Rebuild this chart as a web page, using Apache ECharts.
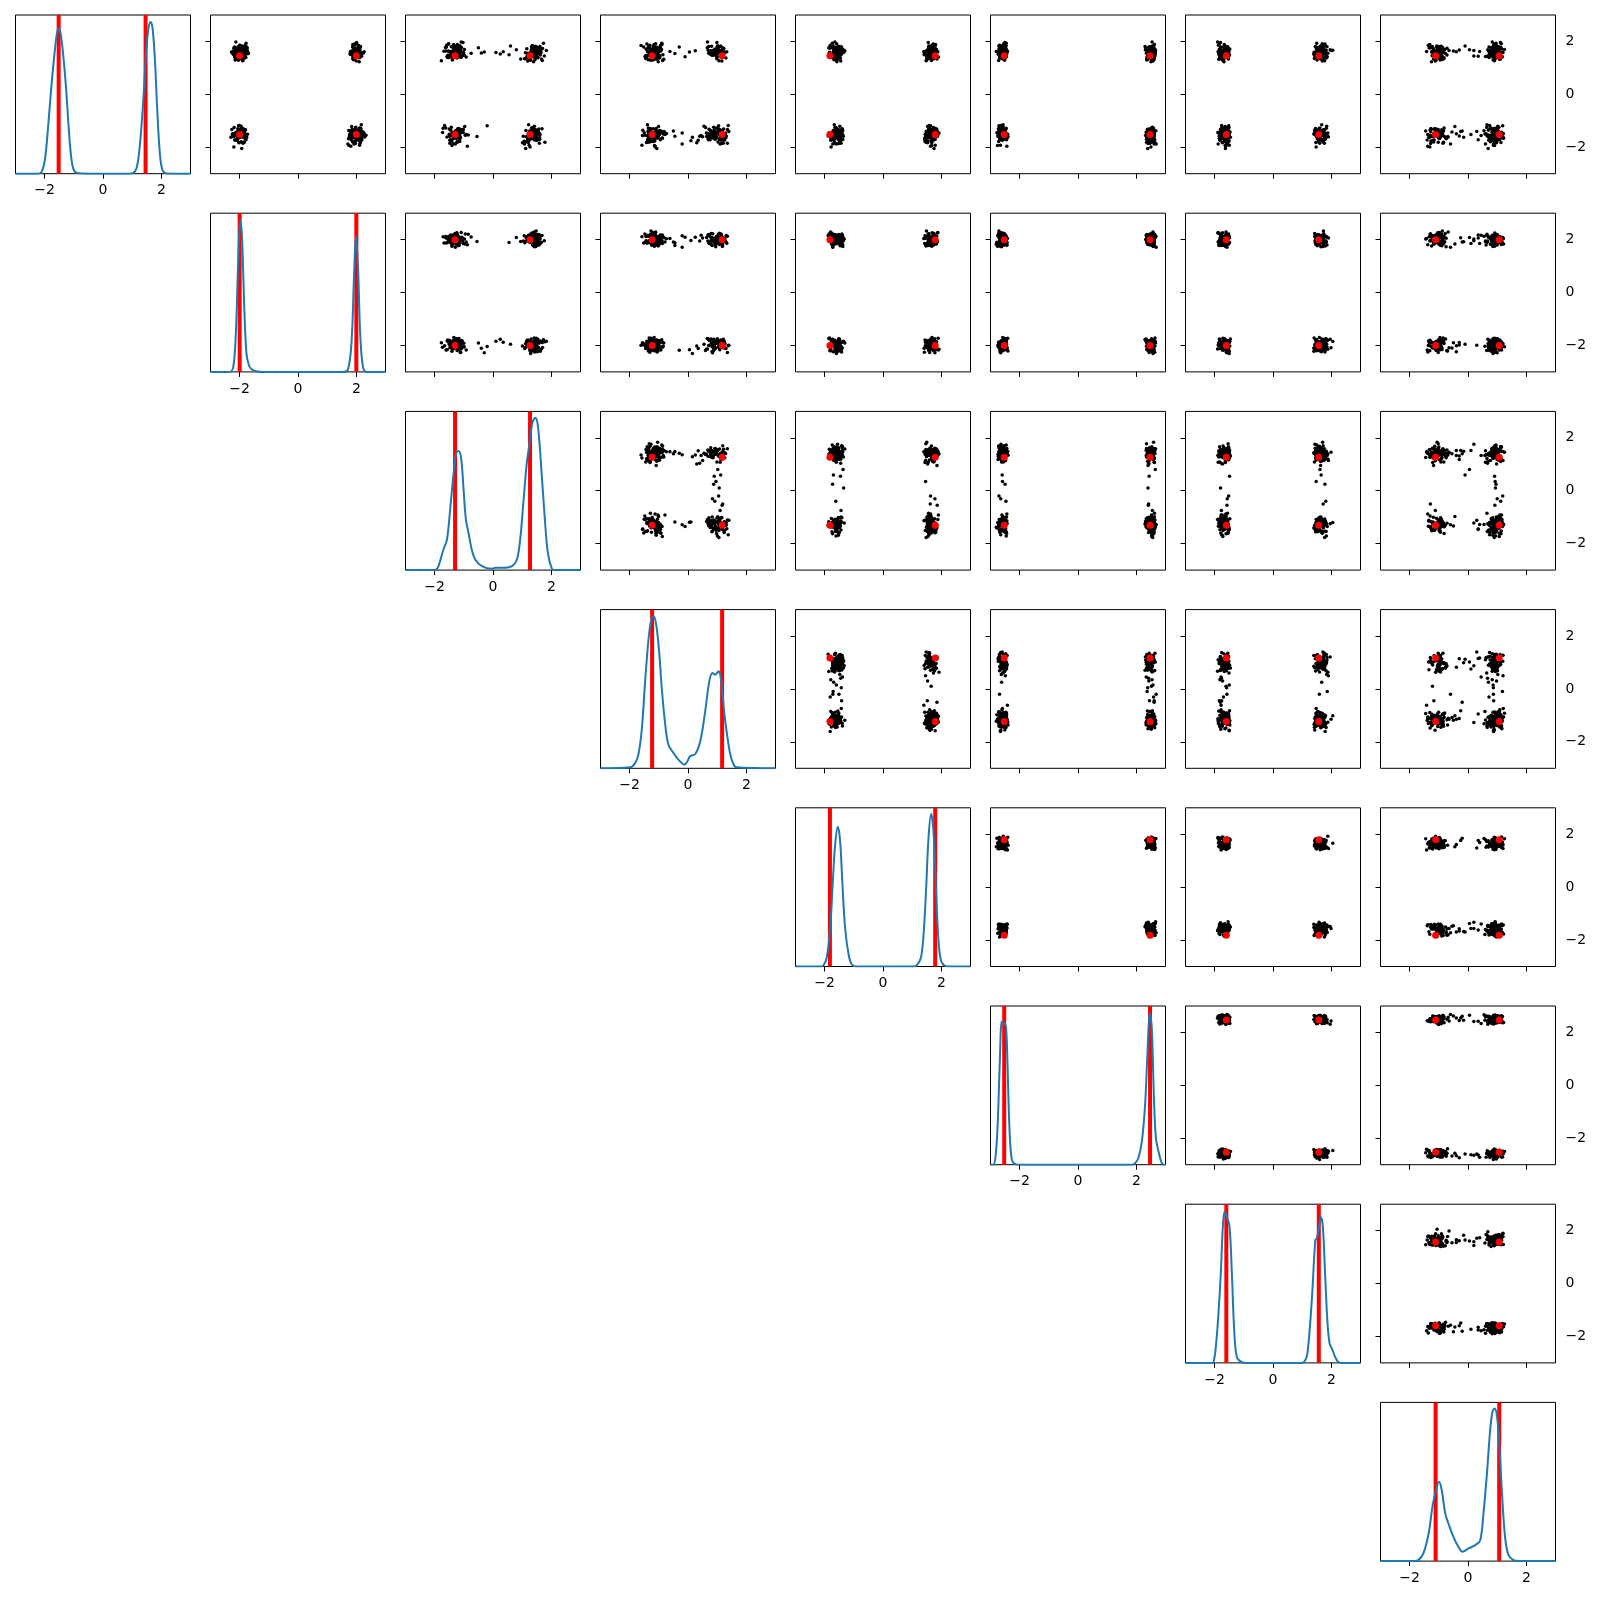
<!DOCTYPE html>
<html>
<head>
<meta charset="utf-8">
<title>pair plot</title>
<script src="https://cdn.jsdelivr.net/npm/echarts@6/dist/echarts.min.js"></script>
<style>
html, body { margin: 0; background: #fff; }
#chart { width: 1600px; height: 1600px; }
</style>
</head>
<body>
<div id="chart"></div>
<script>
// samples, one array per variable (same sample index in each)
var dim0 = [1.63,-1.41,-1.58,1.72,-1.49,1.55,1.48,-1.66,1.61,-1.37,
  -1.53,-1.70,1.59,1.84,-1.45,1.66,-1.62,1.52,1.69,-1.29,
  1.57,1.41,-1.51,-1.88,1.65,-1.55,-1.43,1.76,-1.60,1.50,
  -1.47,1.62,1.70,-1.58,-1.35,1.58,1.44,-1.52,-1.74,1.67,
  1.53,-1.62,1.81,-1.44,-1.56,-1.50,1.60,1.38,-1.68,1.64,
  -1.40,1.71,-1.57,1.49,1.62,-1.93,1.56,-1.46,-1.54,1.77,
  1.66,1.58,1.47,-1.61,-1.49,1.63,-1.38,-1.72,1.54,-1.55,
  -1.64,-1.43,1.68,-1.51,1.60,1.45,-1.59,1.73,1.57,-1.48,
  1.42,-1.57,-1.66,-1.33,1.69,1.61,-1.50,1.55,-1.45,1.79,
  -1.59,1.64,-1.44,1.51,-1.63,1.67,1.59,-1.56,1.62,-1.78,
  1.74,1.56,-1.48,1.60,-1.53,-1.39,1.50,-1.65,-1.47,1.58,
  -1.55,-1.61,1.65,1.43,1.70,-1.52,-1.46,1.61,1.66,-1.42,
  -1.32,1.81,1.37,-1.74,1.60,-1.21,-1.55,1.93,-1.88,1.44,
  1.29,-1.63,-1.40,1.71,1.52,-1.96,1.85,-1.27,1.40,-1.58,
  -1.69,1.55,-1.18,1.34,-1.48,1.98,-1.81,1.62,1.23,-1.36,
  1.75,-1.44,1.47,-1.62,1.88,-1.30,1.56,-2.05,-1.51,1.31,
  -1.78,-1.25,1.66,1.42,-1.57,1.79,-1.39,1.50,1.69,-1.85,
  1.36,1.91,-1.66,-1.29,1.27,-1.50,1.64,-1.72,1.83,-1.43,
  -1.24,1.48,-1.92,1.73,-1.37,-1.60,1.39,1.86,-1.46,1.58,
  1.67,-1.71,1.30,-1.52,-1.15,1.59,-1.83,1.45,-1.34,1.77,
  -1.61,1.38,1.82,-1.99,1.53,-1.28,1.70,-1.45,1.26,-1.67,
  1.49,-1.36,-1.77,1.61,-1.42,1.33,-1.59,1.90,-1.19,1.54,
  -1.54,1.72,1.44,-1.31,1.96,-1.73,1.35,-1.64,1.63,-1.40,
  1.57,-1.86,1.28,1.68,-1.48,-1.22,1.80,-1.56,-1.70,1.41,
  1.51,-1.63,1.77,-1.39,-1.71,1.46,1.65,-1.30,-1.57,1.70,
  -1.45,1.39,-1.82,1.58,1.88,-1.54,-1.36,1.62,-1.68,1.47,
  1.73,-1.48,1.35,1.64,-1.27,-1.59,1.53,-1.76,1.43,-1.52,
  -1.66,-1.34,1.60,1.82,1.48,-1.79,-1.47,1.37,1.69,-1.58,
  1.56,1.74,-1.41,-1.62,1.32,1.67,-1.85,-1.50,1.59,1.44,
  -1.53,1.63,1.41,-1.70,-1.44,1.78,1.50,-1.61,-1.33,1.66,
  1.40,-1.56,-1.73,1.54,1.71,-1.42,1.61,1.86,-1.64,-1.49,
  -1.38,1.69,-1.55,-1.80,1.45,1.57,-1.67,1.34,1.76,-1.46,
  1.62,-1.74,1.52,1.39,-1.51,-1.35,1.80,-1.60,-1.43,1.55,
  -1.69,1.48,-1.37,1.71,1.59,-1.65,1.43,-1.81,1.64,-1.40,
  1.83,-1.50,1.58,-1.57,-1.62,1.52,-1.47,1.68,1.38,-1.72,
  -1.44,1.60,-1.64,-1.31,1.75,1.49,-1.58,1.56,-1.75,1.65];
var dim1 = [-2.15,2.21,1.78,-1.80,-2.24,2.10,-1.86,1.84,2.27,1.74,
  2.19,-2.08,-1.72,-1.83,1.90,2.02,-2.30,1.79,-1.77,2.14,
  -1.82,-2.17,2.06,1.71,-1.93,2.33,2.12,-1.74,-2.21,1.89,
  2.24,1.83,-2.05,1.96,-1.80,-2.26,2.18,1.77,-2.12,-1.85,
  -2.01,1.92,-1.78,2.25,1.86,-2.10,-2.28,2.09,1.73,-1.91,
  1.81,-2.02,2.16,-2.19,2.04,1.75,-1.76,-2.14,2.20,-1.88,
  -2.09,-1.84,1.94,2.29,1.80,-2.22,2.13,-1.79,-1.70,2.01,
  2.07,2.22,-1.89,-1.73,-2.16,1.88,1.76,-2.04,2.19,1.97,
  -1.87,2.15,1.85,-2.27,2.08,-1.95,-1.81,2.23,-2.07,-2.18,
  1.93,-1.90,-2.13,1.82,2.11,-1.75,2.05,2.17,-1.98,1.87,
  -2.20,1.79,-1.84,-2.06,2.12,1.91,-2.11,-1.82,2.26,-1.94,
  1.78,-2.03,2.09,1.95,-1.76,-2.25,2.21,-1.88,-2.09,1.84,
  1.86,2.14,-1.83,-2.09,1.99,-1.95,2.21,-1.78,1.92,-2.16,
  -2.04,1.90,2.07,-1.87,-2.22,1.81,-1.99,2.12,-1.91,1.95,
  2.18,-1.80,-2.01,1.93,2.03,-2.13,-1.86,1.85,2.10,-1.97,
  -1.89,-2.07,1.96,-1.76,1.88,2.16,-2.11,-1.93,2.05,1.91,
  1.94,-2.19,-1.84,2.09,-1.98,1.87,2.02,-2.05,-1.82,2.13,
  -2.12,2.00,1.83,1.97,-1.90,-2.03,1.89,2.19,-1.95,-1.85,
  1.98,-1.92,2.11,-2.08,1.84,2.06,-1.79,-2.00,1.93,-2.14,
  -1.96,1.82,-2.15,1.91,2.17,-1.88,-2.02,1.96,-1.81,2.08,
  2.04,1.89,-1.97,-2.20,-1.85,2.11,1.92,-1.94,2.00,-2.06,
  -1.83,-2.01,2.15,1.86,-2.10,-1.91,2.08,1.94,-2.04,1.88,
  2.10,-1.94,1.90,-1.86,2.01,-2.17,-1.93,2.05,1.87,-1.99,
  -2.08,1.97,-1.89,2.12,1.95,1.84,-2.06,-1.90,2.02,-1.87,
  -2.11,-1.86,2.09,1.92,-1.79,2.15,1.87,-2.06,-1.94,2.02,
  1.89,2.12,-2.03,-1.84,1.95,-2.14,2.06,1.80,2.17,-1.90,
  -1.98,2.04,1.88,-2.17,-1.92,1.99,-1.77,2.13,-2.02,1.85,
  2.16,-1.88,-2.09,1.90,2.08,-1.95,1.83,-2.12,1.97,-1.81,
  -1.85,1.93,2.13,-2.00,-2.15,2.01,-1.89,1.87,-2.08,2.10,
  2.03,-2.10,-1.83,2.14,1.86,-1.97,2.11,-1.92,-2.05,1.91,
  -2.07,1.84,2.00,-1.93,2.12,-1.86,-2.01,2.07,1.94,-2.19,
  1.96,-1.95,-2.13,1.88,-1.82,2.05,-2.09,1.90,-1.91,2.15,
  -1.90,2.09,-1.88,2.02,-2.04,-1.81,2.14,1.93,1.82,-2.00,
  2.07,-2.02,1.94,-1.87,1.91,2.18,-2.16,-1.84,2.04,1.89,
  -1.94,1.98,-2.06,2.10,-1.99,1.85,1.96,-2.10,-1.86,2.06,
  1.92,-2.08,2.05,-1.96,2.00,-1.89,-1.93,2.11,1.97,-2.03];
var dim2 = [1.45,1.30,-1.18,-1.35,1.52,-0.75,1.38,-1.27,-1.09,1.47,
  -1.31,1.56,1.41,-1.14,-1.40,-1.22,1.29,1.50,-1.25,1.36,
  1.43,-0.92,1.60,-1.29,1.39,1.48,-1.33,-1.17,1.34,0.55,
  -1.24,-1.38,1.46,1.28,1.55,-1.12,-1.45,1.40,1.51,-1.20,
  1.37,1.49,-1.26,1.33,-1.19,1.44,-0.30,-1.36,1.42,1.58,
  -1.16,1.35,-1.30,-1.23,1.47,-1.41,1.53,1.39,-0.85,1.44,
  1.50,0.10,-1.21,1.41,1.36,1.62,-1.28,1.45,-1.34,-1.15,
  -1.27,1.43,1.31,1.48,-1.19,-1.37,1.40,-1.24,1.57,-1.32,
  1.39,-1.20,1.46,-1.11,0.80,1.35,1.52,-1.30,-1.25,1.42,
  -0.55,-1.33,-1.18,1.44,1.37,-1.26,1.49,1.33,1.41,-1.22,
  1.54,1.38,1.45,-1.29,-1.36,1.40,-1.13,1.47,-1.24,-1.31,
  -1.17,-1.28,1.35,1.51,-1.21,1.43,1.38,0.35,1.46,1.39,
  -1.02,1.61,1.15,-1.48,-1.30,1.42,-0.95,1.73,1.08,-1.57,
  1.29,-1.19,1.52,1.66,-1.41,-0.88,1.35,-1.62,-1.11,1.04,
  -1.37,1.20,-1.66,0.95,1.47,-1.09,1.78,-1.28,1.39,-1.45,
  1.55,-1.73,-1.05,1.31,-1.22,1.68,-0.40,1.12,-1.50,1.44,
  -1.14,1.37,1.83,-1.35,1.18,-1.60,1.26,-0.99,-1.31,1.59,
  1.09,-1.52,1.46,-1.17,-1.77,1.33,-1.24,1.50,0.60,-1.06,
  -1.43,-1.00,1.24,1.70,-1.26,1.14,-1.55,-1.34,1.41,1.65,
  1.36,1.58,-1.39,-0.92,1.22,-1.47,1.01,1.76,-1.20,-1.63,
  -1.58,1.45,-1.13,1.27,-1.38,-1.71,1.53,-1.08,1.19,1.34,
  1.62,-1.25,1.07,-1.44,1.40,1.28,-1.16,-1.53,-0.20,1.48,
  -1.29,1.16,-1.54,1.57,-1.03,1.43,-1.40,1.25,-1.68,-1.12,
  1.11,-1.36,1.69,-1.21,1.54,-0.97,1.32,-1.46,1.60,-1.33,
  -1.33,1.27,-1.08,1.55,1.19,-1.46,1.63,-1.21,1.34,-0.98,
  1.48,-1.52,1.21,-1.17,-1.35,1.40,-1.04,1.57,1.30,-1.27,
  -1.19,1.44,1.09,-1.61,1.32,-1.28,0.25,-1.42,-1.10,1.52,
  1.23,-1.06,-1.39,1.46,-1.55,1.14,1.59,-1.23,1.37,-1.49,
  -1.40,1.34,1.50,-1.12,1.26,-1.31,-1.48,1.43,-1.20,1.17,
  1.61,-1.25,-1.57,1.20,-1.02,1.51,1.29,-1.37,1.45,-1.14,
  -1.09,1.39,1.25,-1.44,1.56,-1.18,1.33,-1.59,-1.26,1.42,
  1.31,-1.34,1.47,-1.22,-1.47,1.28,-1.13,1.66,-0.50,1.36,
  -1.51,1.18,-1.30,1.53,1.35,-1.07,-1.43,1.24,1.49,-1.32,
  1.41,-1.45,1.13,-1.36,-1.16,1.58,1.38,-1.24,-1.53,1.27,
  -1.23,1.50,-1.01,1.30,1.44,-1.39,1.22,-1.11,1.54,-1.46,
  1.35,-1.15,1.60,-1.50,-1.29,1.19,-1.35,1.46,-1.18,1.32];
var dim3 = [-1.12,1.05,-0.45,-1.28,0.82,1.10,0.97,-1.06,-1.21,1.18,
  0.74,-1.17,-1.33,1.02,-0.98,0.88,0.15,-1.24,1.21,-1.09,
  -1.19,-1.03,0.93,-0.20,1.12,-1.27,-1.14,0.66,-1.36,0.90,
  1.08,-1.22,-0.92,0.79,-1.10,-1.31,1.15,-1.16,0.35,-1.01,
  -1.25,0.99,0.71,-1.13,-1.40,1.26,0.84,-1.07,0.95,-1.18,
  -1.08,-1.20,1.31,0.87,-0.62,-1.15,1.01,0.63,-1.29,-0.95,
  0.91,1.07,-1.23,-1.11,1.19,-1.04,-1.32,0.76,-1.16,1.09,
  -1.21,0.85,-1.12,-1.26,0.05,1.14,-1.02,1.23,-1.19,-1.30,
  0.98,-1.14,-0.88,1.35,1.02,-1.23,-1.10,0.80,1.04,-0.30,
  1.17,-1.18,0.93,-1.05,-1.27,0.69,-1.13,0.45,1.11,-1.24,
  -1.16,0.94,-1.30,1.06,-1.09,-0.50,0.89,-1.20,-1.11,1.27,
  0.83,-1.24,0.25,-1.17,1.00,-1.06,1.13,0.96,-1.15,0.78,
  0.72,-1.35,-0.98,1.21,-1.22,0.55,-1.48,-0.90,1.10,-1.05,
  -1.28,1.30,-0.82,-1.40,0.86,-1.13,-1.61,0.98,-1.19,0.40,
  -0.95,-1.26,1.38,-1.09,-0.74,0.67,-1.33,1.17,-1.02,-1.55,
  1.03,-0.88,-1.44,0.79,-1.16,-1.30,0.92,-1.07,1.26,-1.37,
  -1.20,0.60,-1.04,-0.10,1.14,-1.52,-0.93,0.83,-1.24,1.35,
  -1.45,-1.11,0.95,-1.29,1.06,-0.85,-1.18,0.70,1.12,-1.36,
  0.88,-1.23,-1.58,1.19,-0.97,0.50,-1.06,-1.31,1.29,-1.14,
  -1.00,1.08,-1.21,-0.79,-1.39,0.96,0.30,-1.27,0.74,-1.10,
  1.24,-1.42,0.81,-1.12,-1.25,1.01,-0.91,-1.50,1.16,-1.34,
  -1.17,0.90,-1.30,1.33,-1.08,-0.83,0.64,-1.41,1.05,-0.45,
  0.77,-1.03,-1.46,1.22,0.99,-1.19,-1.27,0.85,-1.09,1.40,
  -1.32,1.15,-0.87,-1.23,0.68,-1.01,1.09,-1.56,0.93,-1.15,
  -1.24,0.86,-1.05,-1.37,1.13,-0.96,0.78,-1.19,-1.30,1.02,
  0.92,-1.11,-1.42,1.24,-0.89,-1.26,1.07,-1.03,0.69,-1.34,
  -1.08,-1.21,0.99,-0.93,-1.36,1.18,0.88,-1.14,-1.47,0.75,
  -1.28,1.10,-1.00,-1.19,0.82,-1.40,-1.09,1.30,-1.23,0.96,
  1.05,-1.33,-0.91,0.73,-1.17,-1.04,1.21,-1.29,0.94,-1.12,
  -0.98,0.91,-1.25,-1.38,1.16,-1.07,-0.86,0.80,-1.31,1.08,
  -1.20,-1.02,1.26,0.87,-1.44,0.98,-1.15,-0.94,1.12,-1.27,
  0.79,-1.18,-1.35,1.03,-0.99,-1.22,0.90,-1.06,1.19,-0.20,
  -1.39,1.14,-1.10,-0.97,0.85,-1.32,1.00,-1.16,-1.24,0.71,
  1.22,-1.05,-1.29,0.93,-1.13,-0.88,1.09,-1.41,0.83,-1.01,
  -1.17,0.97,1.15,-1.26,-1.08,0.76,-1.33,0.89,-1.21,-0.95,
  0.88,-1.30,-1.12,1.06,-0.94,-1.37,0.95,-1.03,0.10,1.17];
var dim4 = [1.80,-1.41,1.52,1.76,-1.70,-1.44,1.61,-1.77,1.88,-1.38,
  -1.65,1.47,-1.83,1.70,1.85,-1.33,-1.60,1.55,-1.49,1.79,
  1.62,1.90,-1.39,-1.72,-1.54,1.49,1.74,-1.86,1.58,-1.46,
  -1.75,1.53,1.83,-1.36,1.69,1.42,-1.62,-1.47,-1.79,1.66,
  1.45,-1.68,-1.51,1.87,1.57,-1.40,1.78,1.50,-1.73,-1.31,
  -1.44,1.81,-1.88,-1.57,1.40,1.67,-1.52,1.92,1.56,-1.69,
  -1.61,-1.35,1.73,-1.80,1.51,-1.59,1.84,1.44,1.68,-1.45,
  1.71,1.58,-1.66,1.89,-1.43,-1.76,1.47,-1.55,-1.84,1.63,
  -1.50,-1.74,1.43,1.60,-1.37,1.82,-1.64,1.75,1.52,-1.81,
  1.86,-1.46,1.65,-1.71,1.48,1.77,-1.58,-1.39,-1.67,1.54,
  -1.82,1.72,1.50,-1.48,-1.63,1.85,1.41,-1.78,1.69,1.59,
  1.57,-1.53,-1.69,1.79,1.64,-1.42,-1.85,1.46,-1.56,1.83,
  -1.41,1.78,-1.69,1.52,1.70,-1.48,1.55,-1.74,-1.60,1.81,
  1.49,-1.66,1.76,-1.39,-1.53,1.63,-1.81,1.57,1.72,-1.45,
  -1.72,-1.50,1.58,1.85,-1.43,-1.65,1.47,1.69,-1.58,1.62,
  1.67,1.54,-1.77,-1.51,1.80,-1.40,-1.62,1.75,1.45,-1.68,
  -1.46,1.73,1.50,-1.71,-1.57,1.66,1.83,-1.44,1.59,-1.63,
  1.56,-1.59,-1.47,1.71,1.48,-1.79,1.64,-1.52,-1.70,1.77,
  -1.64,1.51,1.79,-1.42,1.61,1.46,-1.75,1.68,-1.49,-1.58,
  1.74,-1.38,-1.61,1.60,-1.67,1.82,1.53,-1.56,1.70,-1.73,
  -1.50,1.65,-1.54,-1.78,1.49,-1.61,1.76,1.58,-1.45,1.69,
  1.62,-1.70,1.44,1.57,-1.48,-1.55,-1.66,1.72,1.63,-1.42,
  -1.76,1.59,-1.63,1.84,1.55,-1.46,1.67,-1.69,-1.53,1.48,
  1.71,-1.52,1.66,-1.60,-1.74,1.53,-1.43,1.61,1.79,-1.65,
  1.70,-1.47,-1.62,1.55,-1.68,1.76,-1.51,1.60,-1.58,1.66,
  -1.63,1.58,1.67,-1.54,1.72,-1.45,1.61,-1.70,-1.49,1.54,
  1.59,-1.66,1.74,-1.52,-1.60,1.63,-1.73,1.68,1.50,-1.56,
  -1.48,1.69,-1.57,1.62,1.53,-1.67,1.77,-1.46,-1.61,1.71,
  1.64,1.56,-1.52,-1.69,1.68,-1.59,-1.44,1.73,1.60,-1.65,
  -1.71,-1.55,1.62,1.75,-1.50,1.57,1.66,-1.62,-1.53,1.69,
  1.52,-1.64,-1.47,1.65,-1.57,-1.72,1.61,1.78,-1.60,1.58,
  -1.59,1.73,1.57,-1.48,1.64,1.70,-1.55,-1.67,1.62,-1.51,
  1.67,-1.50,-1.65,1.59,-1.63,1.55,1.72,-1.58,-1.70,1.63,
  -1.54,1.61,1.70,-1.61,-1.46,-1.64,1.56,1.67,1.74,-1.57,
  1.57,-1.68,-1.53,1.71,1.59,-1.49,-1.66,1.64,-1.56,1.76,
  -1.65,1.66,1.60,-1.58,-1.72,1.68,1.54,-1.51,1.65,-1.62];
var dim5 = [-2.45,-2.73,2.61,2.33,-2.66,2.55,-2.49,2.38,-2.70,2.58,
  2.36,-2.61,2.64,-2.47,-2.78,2.41,2.57,-2.54,2.31,-2.69,
  -2.63,2.52,-2.44,2.68,2.39,-2.71,2.60,-2.52,-2.40,2.44,
  2.56,-2.80,-2.50,2.35,-2.57,2.63,2.42,-2.68,2.54,-2.46,
  -2.74,2.46,2.30,-2.59,2.59,-2.43,-2.65,2.37,-2.62,2.66,
  2.43,2.58,-2.69,2.50,-2.42,-2.76,2.34,-2.56,2.62,-2.48,
  -2.51,2.40,-2.64,2.57,-2.72,2.48,2.67,-2.45,-2.58,2.32,
  2.60,-2.67,2.45,-2.41,2.39,-2.55,-2.70,2.56,2.50,-2.62,
  -2.48,-2.75,2.53,2.44,2.65,-2.60,2.36,-2.53,-2.66,2.59,
  2.41,2.62,-2.55,-2.69,-2.47,2.52,-2.63,2.34,2.57,-2.72,
  -2.57,-2.44,2.49,-2.71,2.40,2.61,-2.50,2.55,-2.64,2.38,
  2.54,2.35,-2.62,2.58,-2.46,-2.67,2.47,-2.59,2.43,-2.52,
  2.38,-2.70,-2.49,2.57,2.45,-2.63,2.52,-2.46,2.61,-2.68,
  -2.52,2.36,2.55,-2.71,2.49,-2.44,-2.66,2.58,-2.57,2.42,
  2.60,-2.48,-2.65,2.40,-2.59,2.54,2.35,-2.72,2.50,-2.51,
  -2.67,2.53,2.44,-2.50,2.62,-2.64,-2.47,2.39,-2.69,2.56,
  2.48,-2.58,2.59,2.37,-2.74,2.51,-2.55,-2.45,2.43,2.64,
  -2.62,-2.50,2.41,-2.68,2.56,2.46,-2.43,2.63,-2.60,2.34,
  2.55,2.44,-2.66,-2.53,2.39,-2.49,2.61,-2.70,2.47,-2.56,
  -2.45,2.58,2.36,-2.61,-2.57,2.52,2.43,-2.64,-2.48,2.60,
  2.42,-2.69,-2.54,2.50,2.65,-2.46,-2.62,2.40,2.57,-2.52,
  -2.59,2.47,2.62,-2.48,-2.67,2.38,2.54,-2.55,-2.71,2.45,
  2.51,-2.63,-2.47,2.59,-2.51,2.44,2.37,-2.68,2.53,-2.60,
  -2.54,2.40,-2.72,2.46,2.58,-2.57,2.49,-2.65,2.35,2.55,
  2.53,2.40,-2.66,-2.51,2.58,-2.59,2.45,-2.73,2.49,2.62,
  -2.48,-2.64,2.43,2.56,-2.55,2.37,-2.60,2.51,-2.69,-2.53,
  2.46,2.59,-2.57,-2.45,2.52,-2.67,-2.50,2.41,2.63,-2.62,
  -2.61,2.48,2.55,-2.70,-2.52,2.44,2.60,-2.56,-2.47,2.50,
  2.57,-2.54,-2.68,2.42,2.61,-2.49,2.47,2.54,-2.64,-2.58,
  -2.56,2.52,-2.46,-2.63,2.45,2.58,-2.71,2.39,2.50,-2.51,
  2.44,-2.62,2.57,2.49,-2.54,-2.60,2.55,-2.48,-2.67,2.40,
  -2.65,2.46,-2.53,2.60,2.48,-2.57,-2.44,2.53,2.42,-2.69,
  2.50,-2.59,2.38,-2.55,-2.62,2.56,2.44,-2.66,2.59,-2.50,
  -2.52,2.63,-2.61,2.47,2.41,-2.48,-2.58,2.52,-2.54,2.57,
  2.55,-2.47,2.51,-2.65,2.46,-2.56,2.61,-2.52,2.43,-2.63,
  -2.60,2.49,2.54,2.45,-2.57,2.60,-2.49,-2.62,2.52,2.44];
var dim6 = [1.75,-1.52,-1.84,1.49,1.66,-1.77,1.53,-1.63,-1.88,1.71,
  -1.79,-1.55,1.41,1.80,-1.70,1.58,-1.50,-1.86,1.96,1.46,
  1.69,-1.74,1.57,-1.58,-1.81,1.73,1.44,-1.67,1.78,-1.49,
  -1.85,1.60,-1.53,1.77,1.48,-1.60,-1.76,1.52,-1.82,2.05,
  1.51,1.83,-1.62,-1.89,1.72,1.40,-1.57,-1.73,1.64,-1.54,
  -1.71,-1.48,1.76,1.55,-1.78,-1.64,1.68,1.88,-1.56,1.50,
  1.63,-1.80,1.47,-1.61,1.85,-1.51,-1.75,1.70,1.59,-1.83,
  -1.53,1.74,1.62,-1.72,-1.59,1.45,1.79,-1.80,1.54,-1.68,
  1.81,1.50,-1.76,-1.55,1.61,-1.87,1.74,1.43,-1.62,-1.70,
  -1.58,-1.82,1.70,1.47,-1.69,1.82,-1.54,-1.78,1.65,1.56,
  1.59,-1.69,-1.50,1.73,1.44,-1.80,1.62,-1.65,-1.73,1.77,
  -1.75,1.52,1.67,-1.61,-1.84,1.78,-1.60,1.48,1.99,-1.52,
  -1.80,1.45,1.75,-1.52,-1.70,1.84,-1.61,1.50,-1.88,1.68,
  1.71,1.52,-1.49,-1.83,1.40,-1.62,1.79,-1.55,1.58,-1.77,
  -1.58,1.88,-1.76,1.63,1.48,-1.90,-1.54,1.73,-1.68,1.43,
  1.55,-1.72,1.66,-1.46,-1.85,1.59,1.81,-1.63,1.49,-1.74,
  -1.67,-1.51,1.70,1.86,-1.60,-1.79,1.47,1.64,-1.56,1.76,
  1.42,1.69,-1.84,-1.57,1.77,1.53,-1.69,-1.81,1.65,-1.48,
  -1.75,1.61,-1.50,1.72,-1.64,1.90,1.46,-1.87,-1.59,1.56,
  1.80,-1.66,1.51,-1.78,1.67,-1.53,-1.73,1.44,1.74,-1.61,
  -1.54,-1.82,1.62,1.48,-1.71,1.83,-1.58,-1.65,1.69,1.57,
  1.66,1.74,-1.63,-1.69,1.54,-1.86,1.60,1.78,-1.52,-1.76,
  -1.61,1.49,1.82,-1.55,-1.80,1.65,-1.68,1.58,-1.74,1.71,
  1.63,-1.59,-1.71,1.76,1.46,-1.64,1.85,-1.50,1.53,-1.83,
  1.66,1.51,-1.59,-1.76,1.72,-1.53,-1.69,1.58,1.81,-1.62,
  -1.74,1.60,1.47,-1.55,-1.67,1.74,1.56,-1.80,-1.60,1.68,
  1.55,-1.65,-1.83,1.69,1.61,-1.57,1.78,-1.51,1.64,-1.73,
  -1.60,-1.77,1.58,-1.64,1.52,1.71,-1.56,1.83,-1.68,1.49,
  1.73,-1.58,1.65,1.54,-1.72,-1.63,1.60,-1.70,1.76,-1.52,
  -1.69,1.64,-1.54,1.79,-1.61,1.50,-1.78,1.62,-1.65,1.70,
  1.48,-1.71,1.75,-1.66,1.63,-1.59,1.55,1.69,-1.75,-1.57,
  -1.56,1.67,-1.73,1.57,-1.82,1.61,-1.62,-1.53,1.72,1.59,
  1.61,-1.64,1.52,-1.70,1.68,1.77,-1.55,1.50,-1.67,-1.79,
  -1.81,1.56,1.70,-1.52,-1.66,1.59,1.65,-1.74,1.53,-1.58,
  1.69,-1.62,-1.68,1.66,1.57,-1.76,1.80,-1.60,1.60,-1.65,
  -1.57,1.73,-1.63,-1.71,1.64,1.54,-1.66,1.76,-1.61,1.67];
var dim7 = [0.95,-1.28,0.88,-0.92,-0.40,-1.12,0.90,1.22,-0.98,0.85,
  -1.08,0.93,-0.85,-1.35,0.97,0.20,0.86,-0.95,0.68,0.89,
  0.92,1.15,-1.02,-0.60,0.84,-0.88,-1.10,0.94,-0.70,0.91,
  -0.97,0.87,1.25,0.90,-1.30,0.95,0.35,-0.90,0.83,-1.06,
  0.96,-0.15,-1.01,0.92,0.88,-0.94,1.00,-0.82,-0.75,0.93,
  0.89,-0.99,0.97,-0.72,-1.42,0.91,0.86,-1.11,0.65,-0.87,
  -1.03,0.94,-0.91,-0.68,0.62,0.85,0.55,0.92,-0.96,0.88,
  1.18,-1.00,-0.30,0.90,0.87,-0.93,-1.25,0.96,-1.05,0.91,
  -0.89,0.93,0.86,-1.02,0.05,-0.95,0.98,-0.78,0.84,0.72,
  0.92,-0.50,-0.97,0.89,-1.33,1.01,-0.86,0.45,-1.01,0.94,
  -0.72,0.88,0.95,-0.93,-0.99,-0.20,0.90,0.87,-1.04,1.20,
  0.91,-0.94,0.70,0.60,0.86,-1.38,-0.90,0.93,-0.65,-1.00,
  0.85,-1.22,1.10,0.71,-0.88,1.02,-1.30,0.96,0.60,-0.95,
  -1.10,0.93,-0.25,1.15,0.79,-1.38,0.88,-0.82,1.05,0.67,
  0.99,-0.91,0.74,-1.18,1.21,0.83,-1.02,0.40,-1.25,0.90,
  -1.33,1.07,0.80,-0.77,0.95,-1.14,1.12,0.69,-0.99,0.86,
  0.92,0.64,-1.06,1.18,-0.30,0.89,-1.45,0.97,1.03,-0.86,
  -0.93,1.14,0.77,-1.27,0.90,0.58,-1.08,1.00,-0.10,0.82,
  1.06,-1.19,0.87,0.94,-0.84,1.20,0.72,-1.36,0.91,-1.00,
  -1.15,0.81,-0.96,1.09,0.65,-1.24,0.98,0.20,-0.90,1.13,
  0.76,-1.04,1.01,-1.31,0.88,0.95,-0.80,1.16,-1.12,0.73,
  0.97,0.70,-1.21,0.84,-0.55,1.08,-0.94,0.89,1.19,-1.17,
  -0.87,1.04,0.66,-1.09,1.11,-1.40,0.93,-0.75,0.85,0.30,
  1.12,-1.28,0.91,0.78,-1.01,-0.45,1.06,-1.13,0.83,0.99,
  -1.14,0.98,0.81,-0.87,1.09,-1.23,0.90,0.75,-1.02,1.04,
  0.88,-0.95,1.13,0.94,-1.31,0.70,-1.08,1.00,0.84,-0.90,
  -1.19,0.92,-0.83,1.07,0.79,-1.06,0.96,-1.27,1.15,0.10,
  0.86,1.01,-1.11,-0.92,0.93,0.77,-1.17,1.10,-0.85,0.97,
  -1.00,0.83,0.95,-1.34,-0.89,1.05,0.89,-1.13,0.74,-0.98,
  1.12,-1.21,0.87,0.99,-0.94,-1.07,1.03,0.82,-1.26,0.91,
  -0.91,0.78,-1.16,0.96,1.08,-0.86,-0.40,0.93,0.85,-1.09,
  0.94,-1.03,1.06,-1.18,0.80,0.90,-0.97,1.11,-1.29,0.87,
  -1.24,1.02,0.73,-0.88,-1.05,0.97,0.86,-1.20,1.14,-0.93,
  0.89,-0.99,-1.12,0.92,1.17,-1.01,0.76,-0.84,0.98,1.05,
  -1.07,0.85,0.99,-1.25,0.91,-0.96,1.09,0.81,-1.10,0.35,
  1.00,-0.90,0.84,-1.15,-1.04,1.12,-0.82,0.95,-1.22,0.88];

// true centres (red markers / red lines)
var lowCenter  = [-1.52, -2.00, -1.30, -1.23, -1.82, -2.53, -1.60, -1.11];
var highCenter = [1.46, 2.00, 1.27, 1.17, 1.79, 2.47, 1.57, 1.07];

// density curves, [x, height as fraction of panel]
var kde0 = [[-3,0],[-2.25,0],[-2.11,0.01],[-1.99,0.09],[-1.88,0.3],[-1.77,0.55],[-1.65,0.78],[-1.57,0.895],[-1.51,0.916],[-1.45,0.88],[-1.37,0.76],[-1.27,0.55],[-1.18,0.3],[-1.08,0.09],[-0.97,0.013],[-0.74,0.002],[0.9,0],[1.03,0.004],[1.15,0.034],[1.26,0.17],[1.38,0.46],[1.47,0.74],[1.55,0.905],[1.63,0.956],[1.70,0.916],[1.78,0.72],[1.86,0.40],[1.95,0.128],[2.04,0.023],[2.18,0.002],[3,0]];
var kde1 = [[-3,0],[-2.35,0],[-2.22,0.03],[-2.13,0.25],[-2.05,0.7],[-1.98,0.955],[-1.92,0.85],[-1.85,0.45],[-1.77,0.12],[-1.68,0.04],[-1.58,0.015],[-1.4,0.003],[-1.2,0],[1.55,0],[1.72,0.02],[1.84,0.2],[1.92,0.6],[1.99,0.86],[2.06,0.65],[2.13,0.25],[2.22,0.04],[2.35,0],[3,0]];
var kde2 = [[-3,0],[-1.98,0],[-1.87,0.025],[-1.7,0.13],[-1.58,0.19],[-1.47,0.38],[-1.35,0.61],[-1.26,0.74],[-1.18,0.75],[-1.09,0.70],[-1.01,0.51],[-0.93,0.32],[-0.84,0.235],[-0.73,0.13],[-0.61,0.067],[-0.38,0.025],[-0.04,0.008],[0.07,0.015],[0.42,0.015],[0.65,0.025],[0.82,0.067],[0.93,0.19],[1.05,0.445],[1.16,0.676],[1.27,0.82],[1.35,0.93],[1.45,0.96],[1.54,0.907],[1.65,0.655],[1.77,0.34],[1.88,0.11],[2.02,0.008],[2.13,0],[3,0]];
var kde3 = [[-3,0],[-1.98,0.006],[-1.81,0.034],[-1.7,0.086],[-1.58,0.254],[-1.47,0.548],[-1.35,0.82],[-1.26,0.937],[-1.18,0.958],[-1.09,0.905],[-0.99,0.737],[-0.9,0.506],[-0.78,0.275],[-0.67,0.149],[-0.5,0.097],[-0.33,0.055],[-0.12,0.023],[-0.02,0.044],[0.07,0.076],[0.25,0.09],[0.42,0.17],[0.59,0.36],[0.73,0.548],[0.84,0.6],[0.93,0.59],[1.05,0.611],[1.14,0.548],[1.25,0.338],[1.39,0.149],[1.5,0.055],[1.67,0.006],[3,0]];
var kde4 = [[-3,0],[-2.15,0],[-2.04,0.008],[-1.93,0.055],[-1.81,0.244],[-1.72,0.538],[-1.64,0.769],[-1.55,0.88],[-1.47,0.79],[-1.39,0.517],[-1.3,0.244],[-1.18,0.076],[-1.07,0.013],[-0.9,0],[1.05,0],[1.16,0.008],[1.3,0.055],[1.39,0.2],[1.48,0.496],[1.56,0.81],[1.65,0.962],[1.73,0.853],[1.81,0.517],[1.89,0.2],[1.98,0.044],[2.13,0.004],[2.3,0],[3,0]];
var kde5 = [[-3,0],[-2.9,0],[-2.82,0.063],[-2.75,0.273],[-2.68,0.651],[-2.61,0.903],[-2.54,0.893],[-2.47,0.872],[-2.42,0.651],[-2.35,0.231],[-2.27,0.032],[-2.15,0.004],[-2.0,0],[1.85,0],[1.96,0.01],[2.07,0.042],[2.19,0.147],[2.3,0.378],[2.38,0.693],[2.46,0.956],[2.53,0.861],[2.6,0.441],[2.67,0.168],[2.76,0.084],[2.85,0.021],[2.93,0],[3,0]];
var kde6 = [[-3,0],[-2.15,0],[-2.04,0.006],[-1.95,0.122],[-1.87,0.311],[-1.79,0.563],[-1.72,0.857],[-1.66,0.952],[-1.58,0.92],[-1.49,0.857],[-1.41,0.563],[-1.33,0.206],[-1.24,0.038],[-1.07,0.004],[-0.9,0],[0.95,0],[1.07,0.006],[1.18,0.059],[1.33,0.395],[1.45,0.773],[1.5,0.784],[1.56,0.836],[1.64,0.92],[1.71,0.857],[1.79,0.542],[1.87,0.248],[1.94,0.122],[2.02,0.09],[2.13,0.038],[2.25,0.004],[2.4,0],[3,0]];
var kde7 = [[-3,0],[-1.85,0],[-1.7,0.006],[-1.53,0.048],[-1.35,0.174],[-1.22,0.342],[-1.1,0.447],[-0.99,0.5],[-0.9,0.447],[-0.78,0.3],[-0.67,0.237],[-0.5,0.153],[-0.33,0.09],[-0.19,0.059],[0.02,0.08],[0.25,0.101],[0.42,0.132],[0.53,0.3],[0.65,0.553],[0.76,0.826],[0.84,0.941],[0.91,0.962],[0.99,0.92],[1.07,0.742],[1.16,0.447],[1.27,0.153],[1.39,0.038],[1.56,0.006],[1.75,0],[3,0]];

var tickValues = [-2, 0, 2];

var dims = [dim0, dim1, dim2, dim3, dim4, dim5, dim6, dim7];
var kdes = [kde0, kde1, kde2, kde3, kde4, kde5, kde6, kde7];
var n = dims.length;

function fmt(v) { return String(v).replace('-', '\u2212'); }
var font = { color: '#000', fontSize: 14, fontFamily: 'DejaVu Sans' };
var tick = { show: true, length: 5, customValues: tickValues, lineStyle: { color: '#000', width: 1 } };

var grids = [], xAxes = [], yAxes = [], series = [];

for (var r = 0; r < n; r++) {
  for (var c = r; c < n; c++) {
    var g = grids.length;
    grids.push({
      left: 15.5 + 195 * c, top: 15 + 198.2 * r, width: 175, height: 158.7,
      show: true, borderColor: '#000', borderWidth: 1, backgroundColor: 'transparent'
    });
    var diag = (r === c);
    var xi = xAxes.length;
    xAxes.push({
      gridIndex: g, type: 'value', min: -3, max: 3, position: 'bottom',
      splitLine: { show: false },
      axisLine: { show: false, onZero: false },
      axisTick: tick,
      axisLabel: Object.assign({ show: diag, customValues: tickValues, formatter: fmt, margin: 10 }, font)
    });
    var yi = yAxes.length;
    if (diag) {
      yAxes.push({
        gridIndex: g, type: 'value', min: 0, max: 1,
        splitLine: { show: false }, axisLine: { show: false, onZero: false },
        axisTick: { show: false }, axisLabel: { show: false }
      });
    } else {
      yAxes.push({
        gridIndex: g, type: 'value', min: -3, max: 3, position: 'left',
        splitLine: { show: false }, axisLine: { show: false, onZero: false },
        axisTick: tick,
        axisLabel: { show: false }
      });
      if (c === n - 1) {
        // labels on the right of the last column
        yAxes.push({
          gridIndex: g, type: 'value', min: -3, max: 3, position: 'right',
          splitLine: { show: false }, axisLine: { show: false, onZero: false }, axisTick: { show: false },
          axisLabel: Object.assign({ show: true, customValues: tickValues, formatter: fmt, margin: 10 }, font)
        });
      }
    }

    if (diag) {
      [lowCenter[r], highCenter[r]].forEach(function (m) {
        series.push({
          type: 'line', xAxisIndex: xi, yAxisIndex: yi, data: [[m, 0], [m, 1]],
          symbol: 'none', silent: true, z: 2,
          lineStyle: { color: '#ff0000', width: 4 }
        });
      });
      series.push({
        type: 'line', xAxisIndex: xi, yAxisIndex: yi, data: kdes[r],
        symbol: 'none', smooth: 0.35, silent: true, z: 3,
        lineStyle: { color: '#1f77b4', width: 2 }
      });
    } else {
      var pts = [];
      for (var k = 0; k < dims[c].length; k++) pts.push([dims[c][k], dims[r][k]]);
      series.push({
        type: 'scatter', xAxisIndex: xi, yAxisIndex: yi, data: pts,
        symbolSize: 3.5, silent: true, z: 2,
        itemStyle: { color: '#000', opacity: 1 }
      });
      series.push({
        type: 'scatter', xAxisIndex: xi, yAxisIndex: yi,
        data: [[lowCenter[c], lowCenter[r]], [lowCenter[c], highCenter[r]],
               [highCenter[c], lowCenter[r]], [highCenter[c], highCenter[r]]],
        symbolSize: 7, silent: true, z: 3,
        itemStyle: { color: '#ff0000', opacity: 1 }
      });
    }
  }
}

var myChart = echarts.init(document.getElementById('chart'));
myChart.setOption({
  animation: false,
  backgroundColor: '#fff',
  grid: grids,
  xAxis: xAxes,
  yAxis: yAxes,
  series: series
});
</script>
</body>
</html>
